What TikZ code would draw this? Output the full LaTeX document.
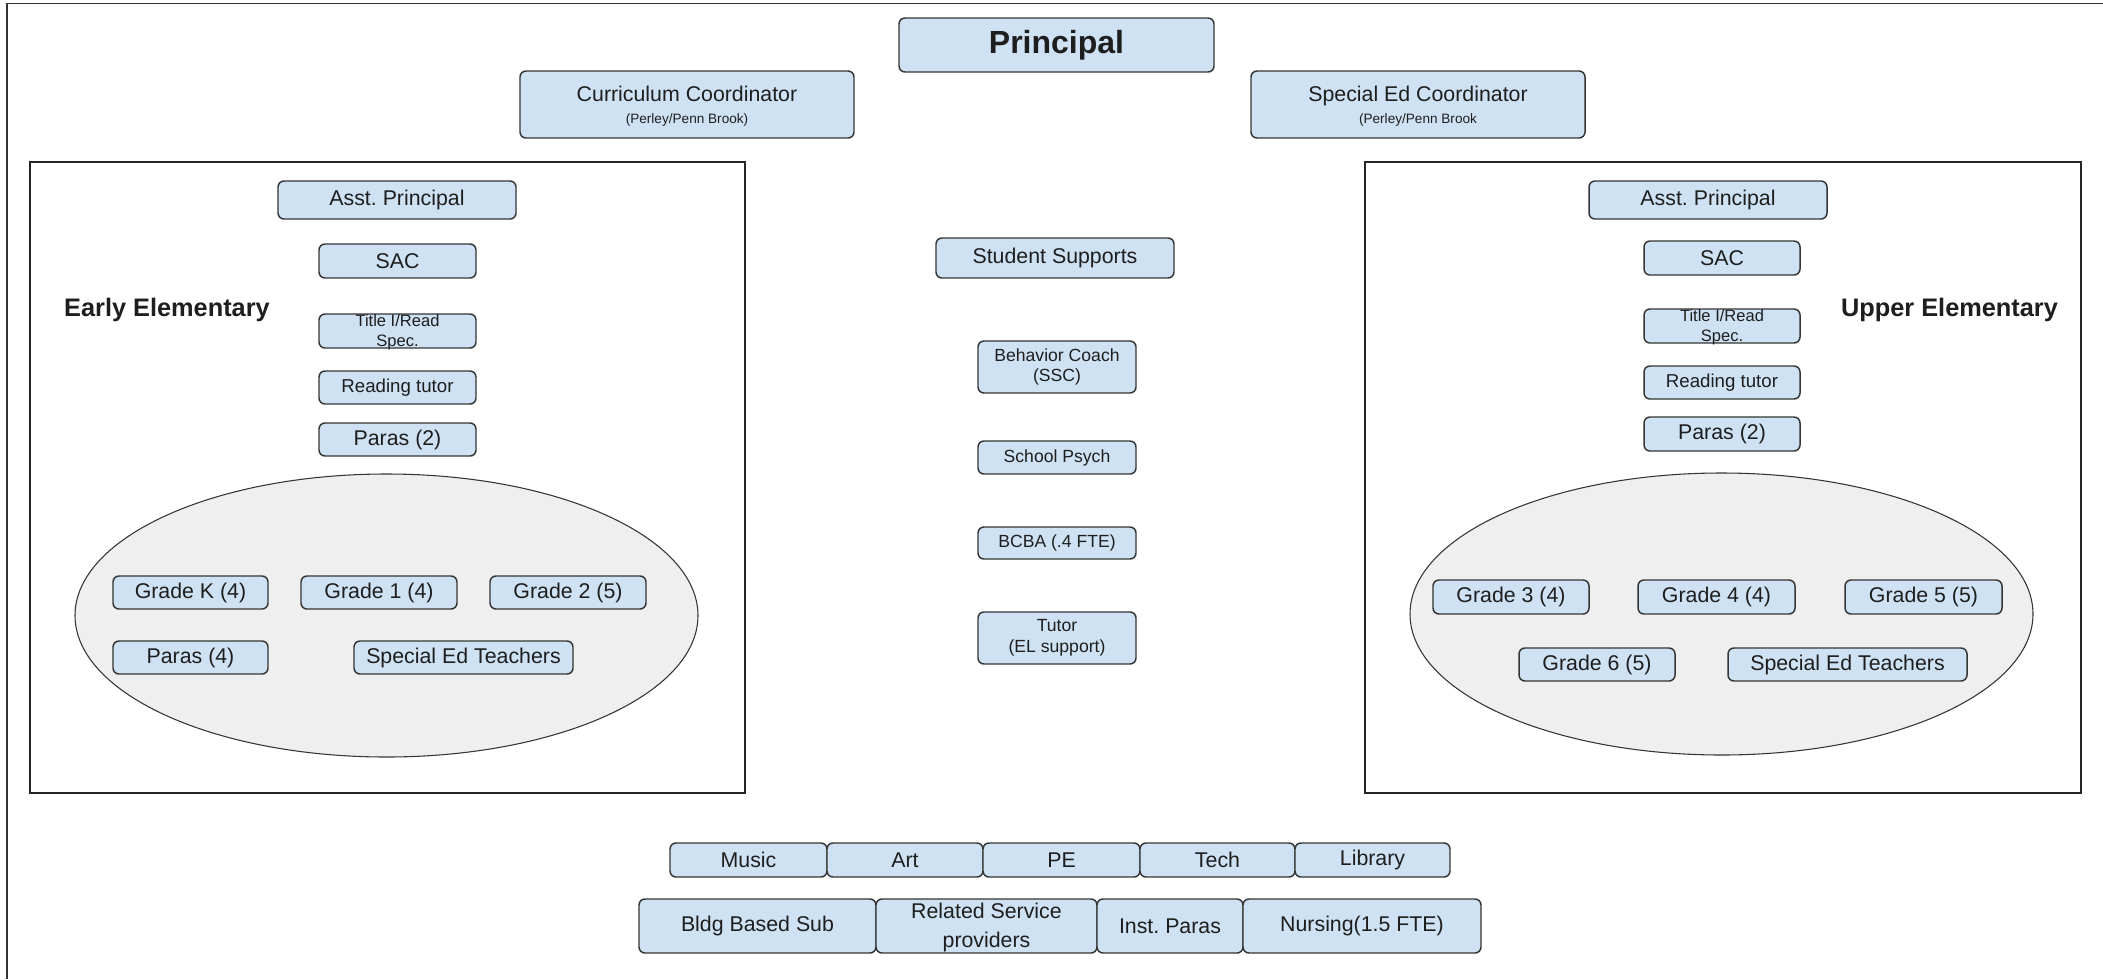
\documentclass[tikz,border=0pt]{standalone}
\usepackage{fontspec}
\setmainfont{Liberation Sans}
\usetikzlibrary{shapes.geometric}
\frenchspacing
\definecolor{boxblue}{HTML}{CFE2F3}
\definecolor{boxline}{HTML}{353535}
\definecolor{txt}{HTML}{1E1E1E}
\definecolor{ellfill}{HTML}{EFEFEF}
\newcommand{\normtxt}{\fontsize{16}{18.5}\selectfont}
\newcommand{\smalltxt}{\fontsize{12.4}{15}\selectfont}
\newcommand{\midtxt}{\fontsize{13.2}{16}\selectfont}
\begin{document}
\begin{tikzpicture}[x=0.75pt,y=-0.75pt,
  box/.style={draw=boxline, fill=boxblue, rounded corners=4.5pt, line width=1.1pt, inner sep=0pt, text=txt, font=\normtxt},
  sz/.style 2 args={minimum width=#1*0.75pt, minimum height=#2*0.75pt},
  frame/.style={draw=black!85, line width=1.1pt, inner sep=0pt},
  ell/.style={ellipse, draw=boxline, fill=ellfill, line width=0.8pt, inner sep=0pt},
  head/.style={font=\fontsize{19}{22}\selectfont\bfseries, text=txt, inner sep=0pt},
  lbl/.style={inner sep=0pt, text=txt, align=center}]
\useasboundingbox (0,0) rectangle (2103,979);
\fill[white] (0,0) rectangle (2103,979);
% screenshot edges
\coordinate (tl) at (7,3.5);
\coordinate (tr) at (2103,3.5);
\coordinate (bl) at (7,979);
\draw[black!80, line width=1.2pt] (bl) -- (tl) -- (tr);

% top level
\node[box, sz={315}{54}, font=\fontsize{24}{28}\selectfont\bfseries] (principal) at (1056.5,45) {Principal};
\node[box, sz={334}{67}] (curr) at (687,104.5) {\begin{tabular}{@{}c@{}}\rule{0pt}{17.5pt}Curriculum Coordinator\\[-2pt]{\fontsize{10.2}{12}\selectfont (Perley/Penn Brook)}\end{tabular}};
\node[box, sz={334}{67}] (sped) at (1418,104.5) {\begin{tabular}{@{}c@{}}\rule{0pt}{17.5pt}Special Ed Coordinator\\[-2pt]{\fontsize{10.2}{12}\selectfont (Perley/Penn Brook}\end{tabular}};

% frames
\node[frame, sz={715}{631}] (early) at (387.5,477.5) {};
\node[frame, sz={716}{631}] (upper) at (1723,477.5) {};

% ellipses
\node[ell, sz={623}{283}] (ellA) at (386.5,615.5) {};
\node[ell, sz={623}{282}] (ellB) at (1721.5,614) {};

% Early elementary
\node[head] (earlyl) at (167,310) {Early Elementary};
\node[box, sz={238}{38}] (ap1) at (397,200) {Asst. Principal};
\node[box, sz={157}{34}] (sac1) at (397.5,261) {SAC};
\node[box, sz={157}{34}] (title1) at (397.5,331) {};
\node[lbl, font=\smalltxt] (title1t) at (397.5,332) {Title I/Read\\Spec.};
\node[box, sz={157}{33}, font=\fontsize{14}{16}\selectfont] (read1) at (397.5,387.5) {Reading tutor};
\node[box, sz={157}{33}] (paras1) at (397.5,439.5) {Paras (2)};
\node[box, sz={155}{33}] (gk) at (190.5,592.5) {Grade K (4)};
\node[box, sz={156}{33}] (g1) at (379,592.5) {Grade 1 (4)};
\node[box, sz={156}{33}] (g2) at (568,592.5) {Grade 2 (5)};
\node[box, sz={155}{33}] (paras4) at (190.5,657.5) {Paras (4)};
\node[box, sz={219}{33}] (spedt1) at (463.5,657.5) {Special Ed Teachers};

% Upper elementary
\node[head] (upperl) at (1949.5,310) {Upper Elementary};
\node[box, sz={238}{38}] (ap2) at (1708,200) {Asst. Principal};
\node[box, sz={156}{34}] (sac2) at (1722,258) {SAC};
\node[box, sz={156}{34}] (title2) at (1722,326) {};
\node[lbl, font=\smalltxt] (title2t) at (1722,327) {Title I/Read\\Spec.};
\node[box, sz={156}{33}, font=\fontsize{14}{16}\selectfont] (read2) at (1722,382.5) {Reading tutor};
\node[box, sz={156}{34}] (paras2) at (1722,434) {Paras (2)};
\node[box, sz={156}{34}] (g3) at (1511,597) {Grade 3 (4)};
\node[box, sz={157}{34}] (g4) at (1716.5,597) {Grade 4 (4)};
\node[box, sz={157}{34}] (g5) at (1923.5,597) {Grade 5 (5)};
\node[box, sz={156}{33}] (g6) at (1597,664.5) {Grade 6 (5)};
\node[box, sz={239}{33}] (spedt2) at (1847.5,664.5) {Special Ed Teachers};

% Student supports
\node[box, sz={238}{40}] (supports) at (1055,258) {Student Supports};
\node[box, sz={158}{52}, font=\midtxt] (behav) at (1057,367) {\begin{tabular}{@{}c@{}}Behavior Coach\\[-1pt](SSC)\end{tabular}};
\node[box, sz={158}{33}, font=\midtxt] (psych) at (1057,457.5) {School Psych};
\node[box, sz={158}{32}, font=\midtxt] (bcba) at (1057,543) {BCBA (.4 FTE)};
\node[box, sz={158}{52}, font=\midtxt] (tutor) at (1057,638) {\begin{tabular}{@{}c@{}}Tutor\\[-0.5pt](EL support)\end{tabular}};

% Specials row
\node[box, sz={157}{34}] (music) at (748.5,860) {Music};
\node[box, sz={156}{34}] (art) at (905,860) {Art};
\node[box, sz={157}{34}] (pe) at (1061.5,860) {PE};
\node[box, sz={155}{34}] (tech) at (1217.5,860) {Tech};
\node[box, sz={155}{34}] (library) at (1372.5,860) {Library};

% Other staff row
\node[box, sz={237}{54}] (bldg) at (757.5,926) {Bldg Based Sub};
\node[box, sz={221}{54}] (related) at (986.5,926) {};
\node[lbl, font=\fontsize{16}{21.75}\selectfont] (relatedt) at (986.5,927.5) {Related Service\\providers};
\node[box, sz={146}{54}] (inst) at (1170,926) {Inst. Paras};
\node[box, sz={238}{54}] (nursing) at (1362,926) {Nursing(1.5 FTE)};
\end{tikzpicture}
\end{document}
